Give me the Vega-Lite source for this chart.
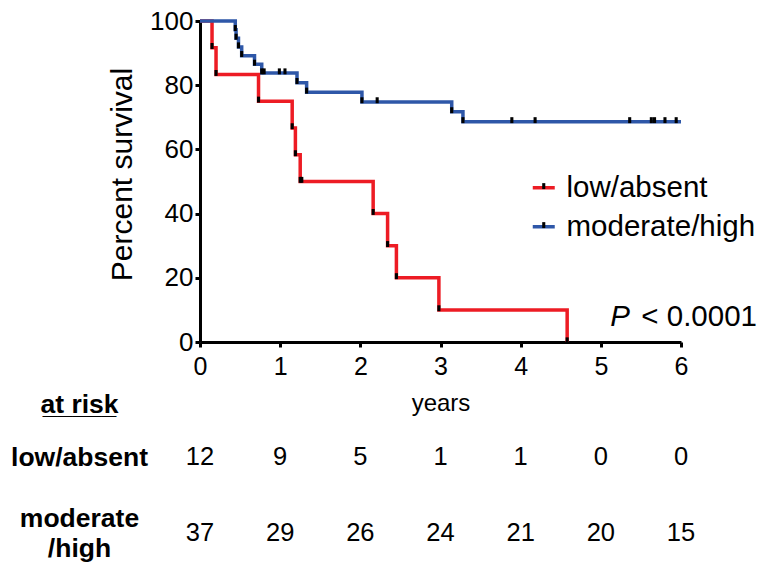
{
  "$schema": "https://vega.github.io/schema/vega-lite/v6.json",
  "width": 481,
  "height": 321,
  "autosize": {"type": "none"},
  "padding": {"left": 200, "top": 21, "right": 81, "bottom": 223},
  "background": "white",
  "config": {
    "view": {"stroke": null},
    "font": "Liberation Sans",
    "axis": {"grid": false, "labelFont": "Liberation Sans", "titleFont": "Liberation Sans", "labelColor": "black", "titleColor": "black"},
    "legend": {"labelFont": "Liberation Sans"}
  },
  "datasets": {
    "km": [
      {"group": "low/absent", "years": 0, "survival": 100, "kind": "start"},
      {"group": "low/absent", "years": 0.15, "survival": 91.7, "kind": "event"},
      {"group": "low/absent", "years": 0.2, "survival": 83.3, "kind": "event"},
      {"group": "low/absent", "years": 0.73, "survival": 75.0, "kind": "event"},
      {"group": "low/absent", "years": 1.15, "survival": 66.7, "kind": "event"},
      {"group": "low/absent", "years": 1.19, "survival": 58.3, "kind": "event"},
      {"group": "low/absent", "years": 1.25, "survival": 50.0, "kind": "event"},
      {"group": "low/absent", "years": 1.27, "survival": 50.0, "kind": "censor"},
      {"group": "low/absent", "years": 2.16, "survival": 40.0, "kind": "event"},
      {"group": "low/absent", "years": 2.34, "survival": 30.0, "kind": "event"},
      {"group": "low/absent", "years": 2.45, "survival": 20.0, "kind": "event"},
      {"group": "low/absent", "years": 2.98, "survival": 10.0, "kind": "event"},
      {"group": "low/absent", "years": 4.58, "survival": 0, "kind": "event"},
      {"group": "moderate/high", "years": 0, "survival": 100, "kind": "start"},
      {"group": "moderate/high", "years": 0.44, "survival": 97.3, "kind": "event"},
      {"group": "moderate/high", "years": 0.45, "survival": 94.6, "kind": "event"},
      {"group": "moderate/high", "years": 0.48, "survival": 91.9, "kind": "event"},
      {"group": "moderate/high", "years": 0.52, "survival": 89.2, "kind": "event"},
      {"group": "moderate/high", "years": 0.68, "survival": 86.5, "kind": "event"},
      {"group": "moderate/high", "years": 0.77, "survival": 83.8, "kind": "event"},
      {"group": "moderate/high", "years": 0.8, "survival": 83.8, "kind": "censor"},
      {"group": "moderate/high", "years": 0.99, "survival": 83.8, "kind": "censor"},
      {"group": "moderate/high", "years": 1.06, "survival": 83.8, "kind": "censor"},
      {"group": "moderate/high", "years": 1.21, "survival": 80.8, "kind": "event"},
      {"group": "moderate/high", "years": 1.33, "survival": 77.8, "kind": "event"},
      {"group": "moderate/high", "years": 2.02, "survival": 74.8, "kind": "event"},
      {"group": "moderate/high", "years": 2.21, "survival": 74.8, "kind": "censor"},
      {"group": "moderate/high", "years": 3.14, "survival": 71.7, "kind": "event"},
      {"group": "moderate/high", "years": 3.28, "survival": 68.6, "kind": "event"},
      {"group": "moderate/high", "years": 3.89, "survival": 68.6, "kind": "censor"},
      {"group": "moderate/high", "years": 4.18, "survival": 68.6, "kind": "censor"},
      {"group": "moderate/high", "years": 5.36, "survival": 68.6, "kind": "censor"},
      {"group": "moderate/high", "years": 5.63, "survival": 68.6, "kind": "censor"},
      {"group": "moderate/high", "years": 5.67, "survival": 68.6, "kind": "censor"},
      {"group": "moderate/high", "years": 5.8, "survival": 68.6, "kind": "censor"},
      {"group": "moderate/high", "years": 5.94, "survival": 68.6, "kind": "censor"},
      {"group": "moderate/high", "years": 6.0, "survival": 68.6, "kind": "end"}
    ],
    "risk": [
      {"group": "low/absent", "years": 0, "n": 12},
      {"group": "low/absent", "years": 1, "n": 9},
      {"group": "low/absent", "years": 2, "n": 5},
      {"group": "low/absent", "years": 3, "n": 1},
      {"group": "low/absent", "years": 4, "n": 1},
      {"group": "low/absent", "years": 5, "n": 0},
      {"group": "low/absent", "years": 6, "n": 0},
      {"group": "moderate/high", "years": 0, "n": 37},
      {"group": "moderate/high", "years": 1, "n": 29},
      {"group": "moderate/high", "years": 2, "n": 26},
      {"group": "moderate/high", "years": 3, "n": 24},
      {"group": "moderate/high", "years": 4, "n": 21},
      {"group": "moderate/high", "years": 5, "n": 20},
      {"group": "moderate/high", "years": 6, "n": 15}
    ]
  },
  "layer": [
    {
      "layer": [
        {
          "data": {"name": "km"},
          "mark": {"type": "line", "interpolate": "step-after", "strokeWidth": 3.5},
          "encoding": {
            "x": {
              "field": "years", "type": "quantitative",
              "scale": {"domain": [0, 6], "nice": false, "zero": false},
              "axis": {
                "values": [0, 1, 2, 3, 4, 5, 6], "format": "d",
                "title": "years", "titleFontSize": 24, "titleFontWeight": "normal", "titlePadding": 12,
                "labelFontSize": 25, "labelPadding": 7, "labelFlush": false,
                "domainColor": "black", "domainWidth": 3, "tickColor": "black", "tickWidth": 3, "tickSize": 5
              }
            },
            "y": {
              "field": "survival", "type": "quantitative",
              "scale": {"domain": [0, 100], "nice": false},
              "axis": {
                "values": [0, 20, 40, 60, 80, 100],
                "title": "Percent survival", "titleFontSize": 30, "titleFontWeight": "normal", "titlePadding": 12, "titleY": 153,
                "labelFontSize": 26, "labelPadding": 2, "labelFlush": false,
                "domainColor": "black", "domainWidth": 3, "tickColor": "black", "tickWidth": 3, "tickSize": 5
              }
            },
            "color": {
              "field": "group", "type": "nominal",
              "scale": {"domain": ["low/absent", "moderate/high"], "range": ["#ed1c24", "#2e57a8"]},
              "legend": {
                "orient": "none", "legendX": 329, "legendY": 152, "title": null, "padding": 0,
                "symbolType": "stroke", "symbolStrokeWidth": 3.5, "symbolSize": 484,
                "labelFontSize": 29.5, "labelOffset": 8, "rowPadding": 8, "labelColor": "black", "labelLimit": 0
              }
            },
            "order": {"field": "years", "type": "quantitative"}
          }
        },
        {
          "data": {"name": "km"},
          "transform": [{"filter": "datum.kind == 'event' || datum.kind == 'censor'"}],
          "mark": {"type": "point", "filled": true, "color": "black", "size": 484, "opacity": 1},
          "encoding": {
            "x": {"field": "years", "type": "quantitative"},
            "y": {"field": "survival", "type": "quantitative"},
            "shape": {
              "field": "group", "type": "nominal",
              "scale": {"range": ["M-0.14,-0.42H0.14V0.12H-0.14Z", "M-0.14,-0.42H0.14V0.12H-0.14Z"]},
              "legend": {
                "orient": "none", "legendX": 329, "legendY": 152, "title": null, "padding": 0,
                "symbolSize": 484, "symbolFillColor": "black", "symbolStrokeWidth": 0, "symbolOpacity": 1,
                "labelFontSize": 29.5, "labelOffset": 8, "rowPadding": 8, "labelColor": "rgba(0,0,0,0)", "labelLimit": 0
              }
            }
          }
        },
        {
          "data": {"values": [{"label": "< 0.0001"}]},
          "mark": {"type": "text", "align": "right", "baseline": "middle", "fontSize": 29.5, "dx": 76, "color": "black"},
          "encoding": {
            "x": {"datum": 6, "type": "quantitative"},
            "y": {"datum": 7.9, "type": "quantitative"},
            "text": {"field": "label"}
          }
        },
        {
          "data": {"values": [{"label": "P"}]},
          "mark": {"type": "text", "align": "right", "baseline": "middle", "fontSize": 29.5, "fontStyle": "italic", "dx": -51, "color": "black"},
          "encoding": {
            "x": {"datum": 6, "type": "quantitative"},
            "y": {"datum": 7.9, "type": "quantitative"},
            "text": {"field": "label"}
          }
        }
      ]
    },
    {
      "data": {"name": "risk"},
      "mark": {"type": "text", "align": "center", "baseline": "middle", "fontSize": 25.5, "color": "black"},
      "encoding": {
        "x": {"field": "years", "type": "quantitative"},
        "y": {
          "field": "group", "type": "nominal",
          "scale": {"type": "point", "domain": ["low/absent", "moderate/high"], "range": [436, 512], "padding": 0},
          "axis": {
            "orient": "left", "domain": false, "ticks": false, "tickSize": 0,
            "labelFontSize": 26.5, "labelFontWeight": "bold", "labelAlign": "center", "labelBaseline": "middle",
            "labelPadding": 121, "labelLineHeight": 30,
            "labelOffset": {"condition": {"test": "datum.value == 'moderate/high'", "value": -15}, "value": 0},
            "labelExpr": "datum.value == 'moderate/high' ? ['moderate', '/high'] : datum.value",
            "title": ["at risk", "_____"], "titleAngle": 0, "titleFontSize": 26.5, "titleFontWeight": "bold",
            "titleAlign": "center", "titleBaseline": "alphabetic", "titleLineHeight": 1,
            "titleX": -121, "titleY": 391
          }
        },
        "text": {"field": "n", "type": "quantitative"}
      }
    }
  ],
  "resolve": {"scale": {"y": "independent"}}
}
